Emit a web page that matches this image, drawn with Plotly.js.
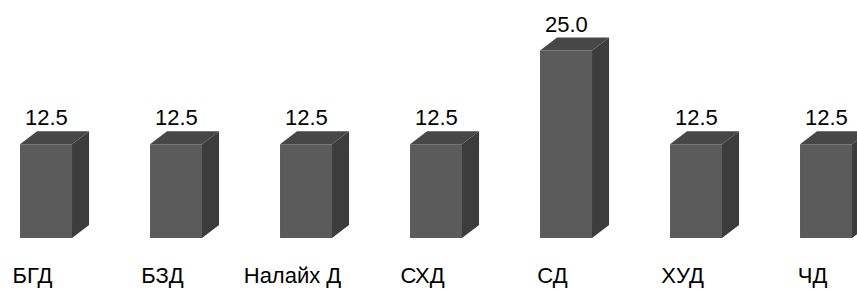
<!DOCTYPE html>
<html>
<head>
<meta charset="utf-8">
<script src="https://cdn.plot.ly/plotly-3.0.1.min.js"></script>
<style>html,body{margin:0;padding:0;background:#fff;}#chart{width:857px;height:290px;}</style>
</head>
<body>
<div id="chart"></div>
<script>
// Data
var categories = ["БГД", "БЗД", "Налайх Д", "СХД", "СД", "ХУД", "ЧД"];
var values = [12.5, 12.5, 12.5, 12.5, 25.0, 12.5, 12.5];

// Style constants
var barOffset = -0.096;   // front face left edge relative to category centre (category units)
var barWidth = 0.4;       // front face width (category units)
var depthX = 0.131;       // 3D depth offset in category units
var depthY = 1.73;        // 3D depth offset in value units
var frontColor = "#5b5b5b";
var topColor = "#474747";
var sideColor = "#3c3c3c";
var fontFamily = "Liberation Sans, Arial, sans-serif";

var xs = categories.map(function (c, i) { return i; });
var traces = [];

// Side and top faces
xs.forEach(function (x, i) {
  var v = values[i];
  var x0 = x + barOffset, x1 = x0 + barWidth;
  traces.push({
    type: "scatter", mode: "lines", fill: "toself",
    x: [x1, x1, x1 + depthX, x1 + depthX, x1],
    y: [0, v, v + depthY, depthY, 0],
    fillcolor: sideColor, line: {width: 0, color: sideColor},
    hoverinfo: "skip", showlegend: false
  });
  traces.push({
    type: "scatter", mode: "lines", fill: "toself",
    x: [x0, x0 + depthX, x1 + depthX, x1, x0],
    y: [v, v + depthY, v + depthY, v, v],
    fillcolor: topColor, line: {width: 0, color: topColor},
    hoverinfo: "skip", showlegend: false
  });
});

// Front faces
traces.push({
  type: "bar", x: xs, y: values,
  offset: barOffset, width: barWidth,
  marker: {color: frontColor, line: {width: 0}},
  hoverinfo: "x+y", showlegend: false
});

var annotations = xs.map(function (x, i) {
  return {
    x: x + barOffset + barWidth / 2, y: values[i] + depthY,
    xref: "x", yref: "y",
    text: values[i].toFixed(1), showarrow: false,
    yanchor: "bottom", xanchor: "center", yshift: -1,
    font: {family: fontFamily, size: 22, color: "#000"}
  };
});

var layout = {
  width: 857, height: 290,
  margin: {l: 0, r: 0, t: 0, b: 52},
  paper_bgcolor: "#fff", plot_bgcolor: "#fff",
  showlegend: false,
  xaxis: {
    range: [-0.25, 6.3423],
    tickmode: "array", tickvals: xs, ticktext: categories,
    showgrid: false, zeroline: false, showline: false, ticks: "",
    ticklabelstandoff: 22,
    tickfont: {family: fontFamily, size: 22, color: "#000"},
    fixedrange: true
  },
  yaxis: {
    range: [0, 31.73],
    showgrid: false, zeroline: false, showline: false,
    showticklabels: false, ticks: "", fixedrange: true
  },
  annotations: annotations
};

Plotly.newPlot("chart", traces, layout, {displayModeBar: false, staticPlot: true});
</script>
</body>
</html>
